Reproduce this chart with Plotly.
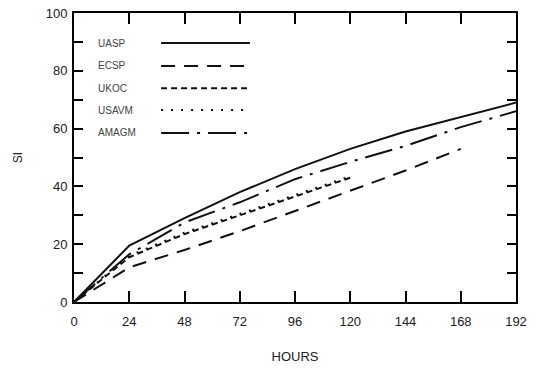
import plotly.graph_objects as go

hours = [0, 24, 48, 72, 96, 120, 144, 168, 192]
hours_120 = [0, 24, 48, 72, 96, 120]
hours_168 = [0, 24, 48, 72, 96, 120, 144, 168]

uasp = [0, 19.5, 29, 38, 46, 53, 59, 64, 69]
ecsp = [0, 12, 18, 24.5, 31.5, 38.5, 45.5, 53]
ukoc = [0, 15.5, 23.5, 30, 36.5, 43]
usavm = [0, 16, 24, 30.5, 37, 43.5]
amagm = [0, 16.5, 27.5, 34.5, 42.5, 48.5, 54, 60.5, 66]

names = ["UASP", "ECSP", "UKOC", "USAVM", "AMAGM"]
xs = [hours, hours_168, hours_120, hours_120, hours]
ys = [uasp, ecsp, ukoc, usavm, amagm]
dashes = ["solid", "14px,9px", "6px,4px", "2px,8px", "28px,8px,3px,8px"]

x_ticks = [0, 24, 48, 72, 96, 120, 144, 168, 192]
y_ticks = [0, 20, 40, 60, 80, 100]

FONT = "Liberation Sans, Arial"

fig = go.Figure()
for n, x, y, d in zip(names, xs, ys, dashes):
    fig.add_trace(go.Scatter(x=x, y=y, mode="lines", name=n, showlegend=False,
                             line=dict(color="#111111", width=2, dash=d)))

# custom legend (text on left, line sample on right)
leg_y = [0.896, 0.817, 0.740, 0.664, 0.585]
for n, d, yy in zip(names, dashes, leg_y):
    fig.add_annotation(x=0.05, y=yy, xref="paper", yref="paper", text=n, showarrow=False,
                       xanchor="left", yanchor="middle",
                       font=dict(family=FONT, size=10, color="#444444"))
    fig.add_shape(type="line", xref="paper", yref="paper", x0=0.197, x1=0.398, y0=yy, y1=yy,
                  line=dict(color="#111111", width=2, dash=d))

axis_common = dict(showline=True, linecolor="black", linewidth=2, mirror="ticks",
                   ticks="inside", tickcolor="black", tickwidth=2, showgrid=False, zeroline=False,
                   ticklabeloverflow="allow", automargin=False,
                   tickfont=dict(family=FONT, size=13, color="#222222"))

fig.update_xaxes(range=[0, 192], tickvals=x_ticks, ticklen=11, ticklabelstandoff=6,
                 title=dict(text="HOURS", font=dict(family=FONT, size=13, color="#222222"),
                            standoff=24),
                 **axis_common)
fig.update_yaxes(range=[0, 100], tickvals=y_ticks, ticklen=9, ticklabelstandoff=2,
                 title=dict(text="SI", font=dict(family=FONT, size=12, color="#222222"),
                            standoff=20),
                 minor=dict(ticks="inside", dtick=10, ticklen=9, tickcolor="black", tickwidth=2),
                 **axis_common)

fig.update_layout(width=541, height=369, margin=dict(l=74, r=25, t=13, b=67),
                  plot_bgcolor="white", paper_bgcolor="white")

fig.write_html("out.html", config={"displayModeBar": False},
               post_script="document.body.style.margin='0';")
